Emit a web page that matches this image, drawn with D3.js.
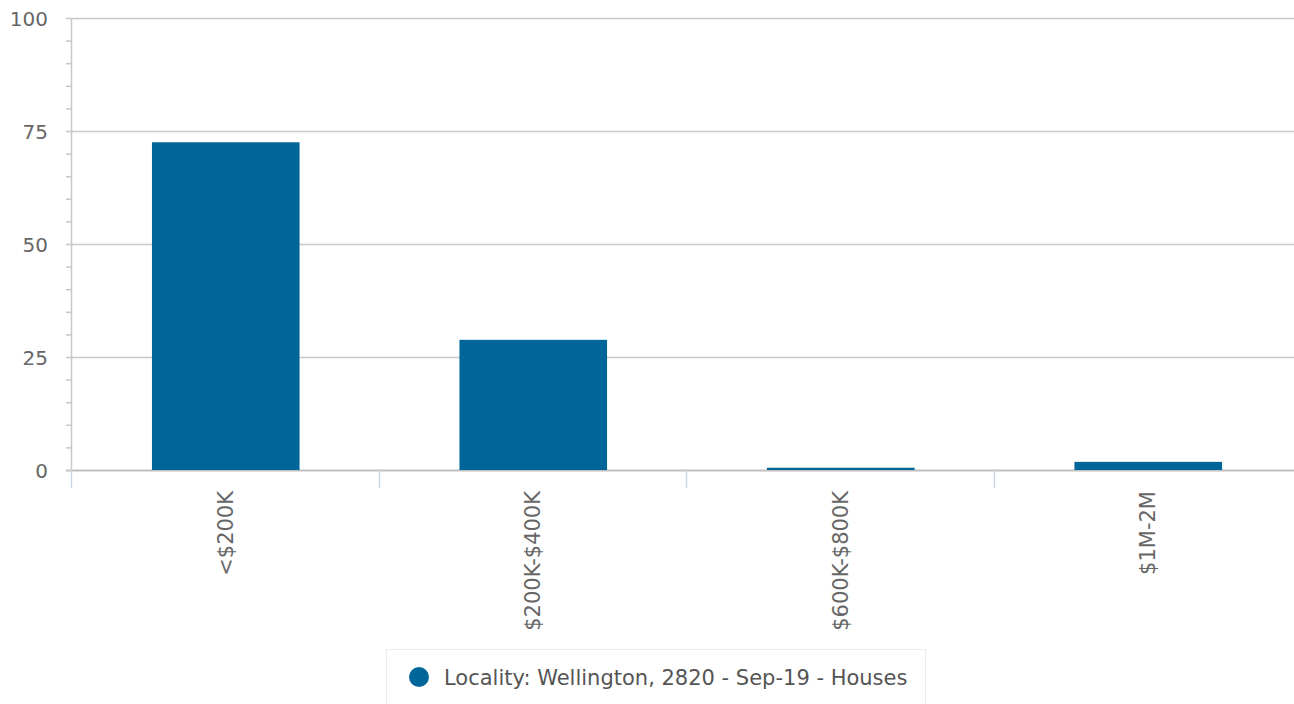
<!DOCTYPE html>
<html>
<head>
<meta charset="utf-8">
<script src="https://cdn.jsdelivr.net/npm/d3@7"></script>
<style>
  body { margin: 0; background: #fff; font-family: "DejaVu Sans", sans-serif; }
</style>
</head>
<body>
<script>
(function() {
  'use strict';

  const categories = ['<$200K', '$200K-$400K', '$600K-$800K', '$1M-2M'];
  const values = [72.5, 28.8, 0.5, 1.8];
  const yTicks = [0, 25, 50, 75, 100];
  const seriesName = 'Locality: Wellington, 2820 - Sep-19 - Houses';

  const w = 1294;
  const h = 704;
  const left = 71;
  const top = 18;
  const bottom = 470;

  const svg = d3.select('body')
    .append('svg')
    .attr('width', w)
    .attr('height', h);

  // bands: shifted one px right so bars sit where the reference has them
  const xScale = d3.scaleBand()
    .domain(categories)
    .range([left + 1, left + 1231])
    .paddingInner(0.52)
    .paddingOuter(0.26);

  const yScale = d3.scaleLinear()
    .domain([0, 100])
    .range([bottom, top]);

  // grid lines
  svg.append('g')
    .selectAll('line')
    .data(yTicks)
    .enter()
    .append('line')
    .attr('x1', left - 5)
    .attr('x2', w)
    .attr('y1', d => yScale(d) + 0.5)
    .attr('y2', d => yScale(d) + 0.5)
    .attr('stroke', d => d === 0 ? '#bfbfbf' : '#c8c8c8')
    .attr('stroke-width', d => d === 0 ? 2 : 1.5);

  // minor ticks
  const minor = d3.range(0, 101, 5).filter(d => d % 25 !== 0);
  svg.append('g')
    .selectAll('line')
    .data(minor)
    .enter()
    .append('line')
    .attr('x1', left - 5)
    .attr('x2', left)
    .attr('y1', d => yScale(d) + 0.5)
    .attr('y2', d => yScale(d) + 0.5)
    .attr('stroke', '#c8c8c8')
    .attr('stroke-width', 1.5);

  // y axis line
  svg.append('line')
    .attr('x1', left + 0.5)
    .attr('x2', left + 0.5)
    .attr('y1', top)
    .attr('y2', bottom)
    .attr('stroke', '#c8c8c8')
    .attr('stroke-width', 1.5);

  // y labels
  svg.append('g')
    .selectAll('text')
    .data(yTicks)
    .enter()
    .append('text')
    .attr('x', 48)
    .attr('y', d => yScale(d) + 8)
    .attr('text-anchor', 'end')
    .attr('font-size', 20)
    .attr('fill', '#666')
    .text(d => d);

  // x category boundary ticks
  const step = xScale.step();
  const bounds = d3.range(categories.length).map(i => left + i * step);
  svg.append('g')
    .selectAll('line')
    .data(bounds)
    .enter()
    .append('line')
    .attr('x1', d => Math.round(d) + 0.5)
    .attr('x2', d => Math.round(d) + 0.5)
    .attr('y1', bottom)
    .attr('y2', bottom + 18)
    .attr('stroke', '#ccd6eb')
    .attr('stroke-width', 1.5);

  // bars
  svg.append('g')
    .selectAll('rect')
    .data(values)
    .enter()
    .append('rect')
    .attr('x', (d, i) => xScale(categories[i]))
    .attr('y', d => yScale(d))
    .attr('width', xScale.bandwidth())
    .attr('height', d => bottom - yScale(d))
    .attr('fill', '#006699');

  // x labels
  svg.append('g')
    .selectAll('text')
    .data(categories)
    .enter()
    .append('text')
    .attr('transform', d => 'translate(' + (xScale(d) + xScale.bandwidth() / 2 + 7) + ',' + (bottom + 21) + ') rotate(-90)')
    .attr('text-anchor', 'end')
    .attr('font-size', 21)
    .attr('fill', '#666')
    .text(d => d);

  // legend
  const legend = svg.append('g');
  legend.append('rect')
    .attr('x', 386.5)
    .attr('y', 649.5)
    .attr('width', 539)
    .attr('height', 70)
    .attr('fill', '#fff')
    .attr('stroke', '#ebebeb');
  legend.append('circle')
    .attr('cx', 419)
    .attr('cy', 677)
    .attr('r', 10)
    .attr('fill', '#006699');
  legend.append('text')
    .attr('x', 444)
    .attr('y', 685)
    .attr('font-size', 21)
    .attr('fill', '#555')
    .text(seriesName);
}());
</script>
</body>
</html>
